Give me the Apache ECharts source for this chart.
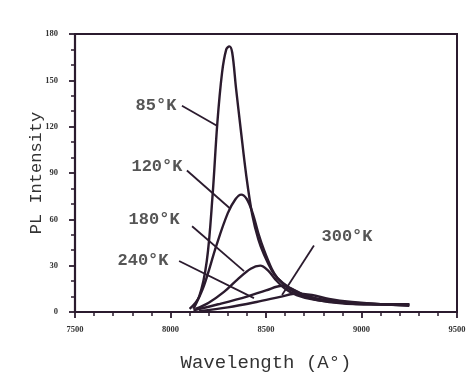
<!DOCTYPE html>
<html>
<head>
<meta charset="utf-8">
<script src="https://cdn.jsdelivr.net/npm/echarts@6/dist/echarts.min.js"></script>
<style>html,body{margin:0;padding:0;background:#fff;}#c{width:470px;height:377px;}</style>
</head>
<body>
<div id="c"></div>
<script>
// Data: [wavelength (A), PL intensity]
const xTicks = [7500, 8000, 8500, 9000, 9500];
const yTicks = [0, 30, 60, 90, 120, 150, 180];
const seriesNames = ['85°K', '120°K', '180°K', '240°K', '300°K'];
const k85 = [[8100,2],[8150,10],[8190,33],[8220,75],[8245,122],[8270,155],[8292,170],[8308,172],[8323,168],[8343,145],[8368,118],[8397,88],[8428,63],[8460,47],[8490,37],[8530,27],[8560,22],[8620,16],[8700,11],[8830,7],[9010,5],[9250,5]];
const k120 = [[8120,2],[8175,17],[8240,43],[8300,64],[8340,73],[8370,76],[8400,73],[8430,64],[8460,51],[8490,40],[8530,28],[8560,22],[8620,15],[8700,10],[8830,6.5],[9010,5],[9250,5]];
const k180 = [[8130,2],[8200,6],[8280,13],[8350,21],[8420,28],[8470,30],[8510,27],[8550,21],[8600,15],[8660,11],[8750,8],[8900,6],[9100,5],[9250,4.5]];
const k240 = [[8120,1],[8250,5],[8400,10],[8500,14],[8585,17],[8635,15],[8700,11],[8800,8],[8950,6],[9100,5],[9250,4]];
const k300 = [[8150,0.5],[8300,3],[8450,6.5],[8580,10],[8660,12],[8740,11],[8830,8.5],[8950,6.5],[9100,5],[9250,4.5]];
// annotation label anchors and leader lines (data coordinates)
const labelPos = [[7924,133.5],[7929,94],[7914,60],[7856,33.5],[8924,49]];
const leaderStart = [[8060,133.5],[8086,91.6],[8113,55.5],[8045,33],[8751,43]];
const leaderEnd = [[8243,120.6],[8312,67],[8385,26.5],[8437,9],[8584,11]];

const ink = '#2b1b2e';
const mono = '"Liberation Mono","DejaVu Sans Mono",monospace';
const curves = [k85, k120, k180, k240, k300];

const chart = echarts.init(document.getElementById('c'));
const series = curves.map((d, i) => ({
  name: seriesNames[i], type: 'line', data: d, smooth: 0.35, symbol: 'none',
  lineStyle: {color: ink, width: 2.4}, z: 3
}));
series.push({
  type: 'line', data: [], silent: true,
  markLine: {
    symbol: 'none', silent: true, label: {show: false},
    lineStyle: {color: ink, width: 1.8, type: 'solid'},
    data: leaderStart.map((s, i) => [{coord: s}, {coord: leaderEnd[i]}])
  }
});
series.push({
  type: 'scatter', symbolSize: 0, silent: true,
  data: labelPos.map((p, i) => ({value: p, name: seriesNames[i]})),
  label: {show: true, position: 'inside', formatter: p => p.name,
    fontFamily: mono, fontSize: 17, fontWeight: 'bold', color: '#2a2a2a'}
});

chart.setOption({
  animation: false,
  backgroundColor: '#ffffff',
  grid: {left: 75, right: 13, top: 34, bottom: 63, show: true, borderColor: ink, borderWidth: 2},
  xAxis: {
    type: 'value', min: 7500, max: 9500, interval: 500,
    name: 'Wavelength (A°)', nameLocation: 'middle', nameGap: 41, nameMoveOverlap: false,
    nameTextStyle: {fontFamily: mono, fontSize: 19, color: '#333'},
    axisLine: {lineStyle: {color: ink, width: 2.2}},
    axisTick: {length: 6, lineStyle: {color: ink, width: 1.8}},
    minorTick: {show: true, splitNumber: 5, length: 4, lineStyle: {color: ink, width: 1.5}},
    splitLine: {show: false},
    axisLabel: {fontFamily: 'Liberation Serif', fontSize: 8.5, fontWeight: 'bold', color: '#333', margin: 13,
      formatter: v => xTicks.includes(v) ? String(v) : ''}
  },
  yAxis: {
    type: 'value', min: 0, max: 180, interval: 30,
    name: 'PL Intensity', nameLocation: 'middle', nameGap: 30, nameMoveOverlap: false,
    nameTextStyle: {fontFamily: mono, fontSize: 17, color: '#333'},
    axisLine: {lineStyle: {color: ink, width: 2.2}},
    axisTick: {length: 6, lineStyle: {color: ink, width: 1.8}},
    minorTick: {show: true, splitNumber: 3, length: 4, lineStyle: {color: ink, width: 1.5}},
    splitLine: {show: false},
    axisLabel: {fontFamily: 'Liberation Serif', fontSize: 8.5, fontWeight: 'bold', color: '#333', margin: 17,
      formatter: v => yTicks.includes(v) ? String(v) : ''}
  },
  series: series
});
</script>
</body>
</html>
